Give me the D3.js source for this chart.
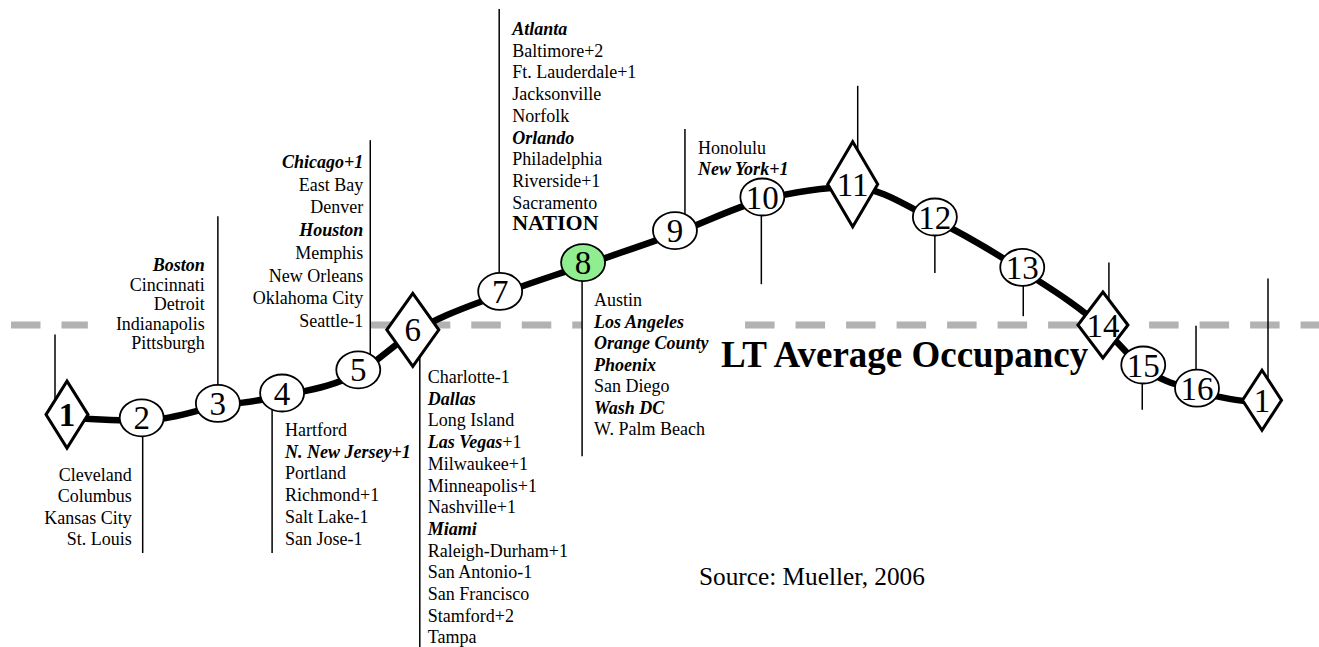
<!DOCTYPE html>
<html>
<head>
<meta charset="utf-8">
<script src="https://cdn.jsdelivr.net/npm/d3@7"></script>
<style>
  body { margin: 0; background: #fff; }
  svg { display: block; }
  text { font-family: "Liberation Serif", "Times New Roman", serif; fill: #000; }
</style>
</head>
<body>
<div id="chart"></div>
<script>
// cycle phases (last one is phase 1 again)
var phases = ["1", "2", "3", "4", "5", "6", "7", "8", "9", "10", "11", "12", "13", "14", "15", "16", "1"];
// position along the cycle and occupancy level of each phase
var cyclePos = [0, 1.0, 2.02, 2.88, 3.9, 4.63, 5.8, 6.91, 8.14, 9.31, 10.52, 11.62, 12.79, 13.87, 14.41, 15.13, 16];
var occupancy = [84.4, 84.2, 85.1, 85.75, 87.2, 89.7, 92.1, 93.9, 95.9, 98.0, 98.8, 96.75, 93.6, 90.0, 87.5, 86.05, 85.3];
// where the leader line of each phase ends (occupancy units)
var leaderEnd = [89.4, 75.75, 96.8, 75.75, 101.55, 69.6, 109.75, 81.8, 102.25, 92.55, 104.95, 93.25, 90.55, 93.9, 84.7, 89.95, 92.9];
var ltAverage = 90;
var nationPhase = 7; // index of the highlighted node

// markets by node index, *...* = bold italic, # = NATION
var markets2 = ["Cleveland", "Columbus", "Kansas City", "St. Louis"];
var markets3 = ["*Boston*", "Cincinnati", "Detroit", "Indianapolis", "Pittsburgh"];
var markets4 = ["Hartford", "*N. New Jersey+1*", "Portland", "Richmond+1", "Salt Lake-1", "San Jose-1"];
var markets5 = ["*Chicago+1*", "East Bay", "Denver", "*Houston*", "Memphis", "New Orleans", "Oklahoma City", "Seattle-1"];
var markets6 = ["Charlotte-1", "*Dallas*", "Long Island", "*Las Vegas*+1", "Milwaukee+1", "Minneapolis+1", "Nashville+1",
  "*Miami*", "Raleigh-Durham+1", "San Antonio-1", "San Francisco", "Stamford+2", "Tampa"];
var markets7 = ["*Atlanta*", "Baltimore+2", "Ft. Lauderdale+1", "Jacksonville", "Norfolk", "*Orlando*", "Philadelphia",
  "Riverside+1", "Sacramento", "#NATION"];
var markets8 = ["Austin", "*Los Angeles*", "*Orange County*", "*Phoenix*", "San Diego", "*Wash DC*", "W. Palm Beach"];
var markets9 = ["Honolulu", "*New York+1*"];

var W = 1319, H = 647;

var svg = d3.select("#chart").append("svg")
  .attr("width", W)
  .attr("height", H);

var x = d3.scaleLinear().domain([0, 16]).range([67, 1262]);
var y = d3.scaleLinear().domain([80, 100]).range([485, 165]);

// per node layout tweaks
var leaderDx = [-12, 1, 0, -10, 12, 7, -1, -1, 10, -1, 5, 0, 1, 6, -1, -1, 6];
var diamonds = { 0: [42, 67], 5: [52, 73], 10: [50, 85], 13: [50, 66], 16: [39, 60] };

var nodes = phases.map(function (p, i) {
  return { label: p, i: i, cx: x(cyclePos[i]), cy: y(occupancy[i]), lx: x(cyclePos[i]) + leaderDx[i], ly: y(leaderEnd[i]) };
});

// market lists; box = width of the (white) text frame next to the leader
var listLayout = [
  { node: 1, items: markets2, anchor: "end", dx: -11, y0: 481, dy: 21.3 },
  { node: 2, items: markets3, anchor: "end", dx: -13, y0: 271, dy: 19.6, box: 130 },
  { node: 3, items: markets4, anchor: "start", dx: 13, y0: 436, dy: 21.7 },
  { node: 4, items: markets5, anchor: "end", dx: -7, y0: 168, dy: 22.7, box: 152 },
  { node: 5, items: markets6, anchor: "start", dx: 8, y0: 383, dy: 21.7 },
  { node: 6, items: markets7, anchor: "start", dx: 13, y0: 35, dy: 21.7 },
  { node: 7, items: markets8, anchor: "start", dx: 12, y0: 306, dy: 21.5, box: 163 },
  { node: 8, items: markets9, anchor: "start", dx: 13, y0: 154, dy: 21 }
];

// LT average line, broken where the text frames sit on it
var gaps = listLayout.filter(function (L) { return L.box; }).map(function (L) {
  var lx = nodes[L.node].lx;
  return L.anchor === "end" ? [lx - L.box, lx] : [lx, lx + L.box];
}).sort(function (a, b) { return a[0] - b[0]; });
var segs = [], start = 11;
gaps.forEach(function (gp) {
  if (gp[0] - start > 1) segs.push([start, gp[0]]);
  start = Math.max(start, gp[1]);
});
segs.push([start, W]);

svg.selectAll(".avg")
  .data(segs)
  .enter()
  .append("line")
  .attr("class", "avg")
  .attr("x1", function (d) { return d[0]; })
  .attr("x2", function (d) { return d[1]; })
  .attr("y1", y(ltAverage))
  .attr("y2", y(ltAverage))
  .style("stroke", "#b2b2b2")
  .style("stroke-width", 7)
  .style("stroke-dasharray", "29.5,21");

// leader lines
svg.selectAll(".leader")
  .data(nodes)
  .enter()
  .append("line")
  .attr("class", "leader")
  .attr("x1", function (d) { return d.lx; })
  .attr("x2", function (d) { return d.lx; })
  .attr("y1", function (d) { return d.cy; })
  .attr("y2", function (d) { return d.ly; })
  .style("stroke", "#000")
  .style("stroke-width", 1.5);

// cycle curve
var line = d3.line()
  .x(function (d) { return d.cx; })
  .y(function (d) { return d.cy + 3; })
  .curve(d3.curveMonotoneX);

svg.append("path")
  .datum(nodes)
  .attr("d", line)
  .style("fill", "none")
  .style("stroke", "#000")
  .style("stroke-width", 6.5);

// nodes
var g = svg.selectAll(".node")
  .data(nodes)
  .enter()
  .append("g")
  .attr("class", "node")
  .attr("transform", function (d) { return "translate(" + d.cx + "," + d.cy + ")"; });

g.each(function (d) {
  var el = d3.select(this);
  var dm = diamonds[d.i];
  if (dm) {
    var w = dm[0] / 2, h = dm[1] / 2;
    el.append("path")
      .attr("d", "M0," + (-h) + "L" + w + ",0L0," + h + "L" + (-w) + ",0Z")
      .style("fill", "#fff")
      .style("stroke", "#000")
      .style("stroke-width", 3)
      .style("stroke-linejoin", "miter");
  } else {
    el.append("ellipse")
      .attr("rx", 22)
      .attr("ry", 18.5)
      .style("fill", d.i === nationPhase ? "#90ee90" : "#fff")
      .style("stroke", "#000")
      .style("stroke-width", 1.8);
  }
  el.append("text")
    .attr("text-anchor", "middle")
    .attr("y", 11.5)
    .style("font-size", "33px")
    .style("font-weight", d.i === 0 ? "bold" : "normal")
    .text(d.label);
});

listLayout.forEach(function (L) {
  var n = nodes[L.node];
  var t = svg.selectAll(null)
    .data(L.items)
    .enter()
    .append("text")
    .attr("text-anchor", L.anchor)
    .attr("x", n.lx + L.dx)
    .attr("y", function (d, i) { return L.y0 + i * L.dy; })
    .style("font-size", "18px");
  t.each(function (s) {
    var el = d3.select(this);
    if (s.charAt(0) === "#") {
      el.append("tspan").style("font-weight", "bold").style("font-size", "22px").text(s.slice(1));
      return;
    }
    s.split("*").forEach(function (part, k) {
      if (!part) return;
      var sp = el.append("tspan").text(part);
      if (k % 2 === 1) sp.style("font-weight", "bold").style("font-style", "italic");
    });
  });
});

svg.append("text")
  .attr("x", 721)
  .attr("y", 367)
  .style("font-size", "37px")
  .style("font-weight", "bold")
  .text("LT Average Occupancy");

svg.append("text")
  .attr("x", 699)
  .attr("y", 585)
  .style("font-size", "25.3px")
  .text("Source: Mueller, 2006");
</script>
</body>
</html>
